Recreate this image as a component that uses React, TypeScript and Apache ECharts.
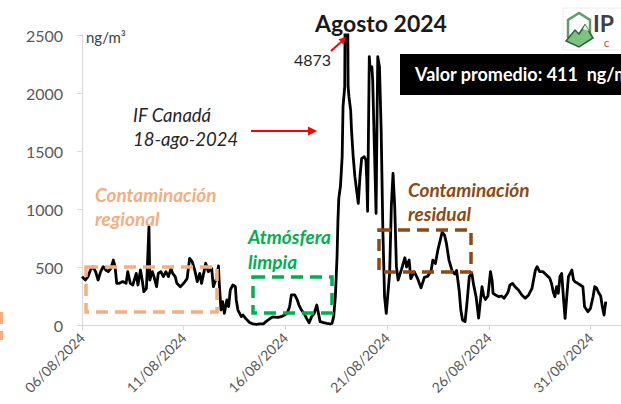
import React, { useEffect, useRef } from "react";
import * as echarts from "echarts";

// [hours since 06/08/2024 00:00, concentration ng/m³]
const regionalPhase: [number, number][] = [
  [0, 417], [4, 388], [7, 417], [10, 474], [13, 503], [16, 460], [19, 388], [22, 460], [25, 503], [28, 474],
  [31, 460], [34, 488], [37, 560], [39, 503], [41, 359], [44, 359], [48, 374], [52, 359], [54, 460], [57, 359],
  [60, 345], [64, 445], [66, 345], [69, 474], [71, 388], [73, 287], [76, 316], [77, 474], [79, 848], [80, 388],
  [83, 460], [85, 417], [88, 330], [90, 445], [93, 460], [96, 417], [99, 460], [102, 417], [105, 488], [107, 445],
  [110, 417], [112, 359], [116, 330], [120, 360], [124, 400], [127, 575], [130, 546], [133, 474], [136, 374],
  [139, 445], [141, 359], [144, 460], [146, 532], [149, 460], [153, 488], [155, 330], [157, 374], [159, 400],
  [161, 510],
];

const cleanPhase: [number, number][] = [
  [162, 359], [164, 129], [166, 201], [168, 101], [171, 216], [173, 158], [175, 302], [178, 345], [181, 330],
  [182, 216], [184, 129], [188, 72], [190, 86], [194, 49], [198, 20], [202, 9], [206, 5], [210, 9], [214, 10],
  [217, 29], [221, 50], [225, 70], [231, 65], [235, 72], [239, 86], [242, 101], [245, 158], [247, 259], [251, 259],
  [254, 216], [256, 172], [259, 129], [262, 101], [265, 57], [268, 20], [271, 72], [274, 101], [277, 172],
  [279, 101], [281, 29], [285, 20], [289, 14], [293, 9], [295, 14], [297, 72],
];

const fireEvent: [number, number][] = [
  [299, 250], [301, 600], [302, 900], [303, 1092], [305, 1200], [307, 1451], [308, 1882], [310, 2054],
  [312, 4873], [314, 2054], [315, 1968], [317, 1853], [318, 1681], [320, 1451], [322, 1279], [324, 1164],
  [326, 1049], [328, 1279], [330, 1437], [333, 1451], [335, 1422], [336, 1250], [337, 980], [339, 2313],
  [340, 2198], [342, 2227], [343, 2112], [345, 1537], [347, 962], [348, 1681], [349, 2313], [351, 2227],
  [353, 1681], [355, 819], [357, 244], [359, 101], [363, 445], [365, 1020], [367, 1307], [369, 1020], [371, 503],
];

const residualPhase: [number, number][] = [
  [373, 388], [377, 480], [381, 580], [383, 500], [386, 560], [388, 400], [392, 460], [396, 400], [400, 320],
  [404, 410], [408, 420], [412, 470], [414, 560], [417, 530], [420, 650], [423, 740], [425, 800], [428, 770],
  [430, 704], [433, 560], [437, 460], [440, 440], [442, 470], [445, 302], [447, 129], [449, 43], [452, 29],
  [454, 170], [457, 417], [460, 445], [462, 350], [465, 244], [468, 60], [470, 200], [472, 330], [474, 250],
  [476, 220], [479, 250], [482, 460], [484, 380], [485, 273], [488, 259], [492, 244], [495, 250], [498, 230],
  [502, 273], [503, 290], [505, 345], [508, 359], [511, 330], [515, 302], [519, 259], [523, 230], [527, 259],
  [531, 316], [535, 474], [537, 503], [540, 460], [544, 460], [548, 431], [552, 402], [554, 359], [556, 287],
  [558, 244], [560, 331], [562, 273], [564, 417], [566, 445], [568, 244], [570, 57], [572, 244], [574, 417],
  [576, 445], [578, 474], [580, 388], [582, 370], [585, 359], [588, 345], [591, 330], [593, 158], [597, 115],
  [600, 144], [603, 244], [605, 330], [607, 320], [610, 273], [612, 250], [614, 158], [616, 86], [618, 201],
];

const yTicks = [0, 500, 1000, 1500, 2000, 2500];
const startDateUTC = Date.UTC(2024, 7, 6);
const FONT = "Lato";

function fmtDate(hours: number): string {
  if (hours % 120 !== 0) return "";
  const d = new Date(startDateUTC + hours * 3600 * 1000);
  const dd = String(d.getUTCDate()).padStart(2, "0");
  const mm = String(d.getUTCMonth() + 1).padStart(2, "0");
  return `${dd}/${mm}/${d.getUTCFullYear()}`;
}

export default function App() {
  const ref = useRef<HTMLDivElement>(null);
  useEffect(() => {
    const chart = echarts.init(ref.current!, null, { renderer: "svg" });
    const data = [...regionalPhase, ...cleanPhase, ...fireEvent, ...residualPhase];
    const txt = (x: number, y: number, text: string, extra: any = {}) => ({
      type: "text",
      x,
      y,
      z: 20,
      style: {
        text,
        fontFamily: FONT,
        fontSize: 16,
        fill: "#262626",
        align: "left",
        verticalAlign: "middle",
        ...extra,
      },
    });
    const dashed = (x: number, y: number, w: number, h: number, color: string) => ({
      type: "rect",
      z: 15,
      shape: { x, y, width: w, height: h },
      style: { fill: "none", stroke: color, lineWidth: 3.5, lineDash: [12, 7] },
    });
    const orange = "#f4ae80";
    const green = "#00b050";
    const brown = "#8c4a14";
    chart.setOption({
      animation: false,
      backgroundColor: "#ffffff",
      grid: { left: 82, top: 35, width: 545, height: 290, containLabel: false },
      xAxis: {
        type: "value",
        min: 0,
        max: 636,
        interval: 120,
        axisLine: { show: true, lineStyle: { color: "#d9d9d9", width: 1 } },
        axisTick: { show: true, length: 5, lineStyle: { color: "#d9d9d9" } },
        splitLine: { show: false },
        axisLabel: {
          rotate: 45,
          margin: 10,
          color: "#595959",
          fontFamily: FONT,
          fontSize: 14,
          showMaxLabel: false,
          formatter: (v: number) => fmtDate(v),
        },
      },
      yAxis: {
        type: "value",
        min: yTicks[0],
        max: yTicks[yTicks.length - 1],
        interval: 500,
        axisLine: { show: true, lineStyle: { color: "#d9d9d9", width: 1 } },
        axisTick: { show: true, length: 5, lineStyle: { color: "#d9d9d9" } },
        splitLine: { show: false },
        axisLabel: {
          margin: 19,
          color: "#595959",
          fontFamily: FONT,
          fontSize: 16,
          formatter: (v: number) => String(v),
        },
      },
      series: [
        {
          type: "line",
          data,
          showSymbol: false,
          clip: true,
          lineStyle: { color: "#000000", width: 2.8, join: "round" },
          z: 5,
        },
      ],
      graphic: [
        // logo
        {
          type: "rect",
          z: 10,
          shape: { x: 563, y: 8, width: 70, height: 42 },
          style: { fill: "#ffffff", stroke: "#ececec", lineWidth: 1 },
        },
        {
          type: "polyline",
          z: 11,
          shape: { points: [[568, 38], [568, 20], [579, 13], [590, 20], [590, 38]] },
          style: { stroke: "#5e9c6b", lineWidth: 2.5, fill: "none" },
        },
        {
          type: "polygon",
          z: 12,
          shape: { points: [[566, 41], [575, 30], [579, 34], [585, 25], [593, 38], [579, 47]] },
          style: { fill: "#7cc37f", stroke: "#2f5f3a", lineWidth: 1.5 },
        },
        {
          type: "polygon",
          z: 13,
          shape: { points: [[585, 25], [589, 31], [583, 29]] },
          style: { fill: "#eef8ee" },
        },
        txt(593, 23, "IP", { fontSize: 23, fontWeight: "bold", fill: "#404040" }),
        txt(604, 44, "C", { fontSize: 8, fontWeight: "bold", fill: "#e0512b" }),
        // title
        txt(381, 23, "Agosto 2024", { fontSize: 23, fontWeight: "bold", align: "center", fill: "#1a1a1a" }),
        // average box
        {
          type: "rect",
          z: 18,
          shape: { x: 400, y: 54, width: 240, height: 41 },
          style: { fill: "#000000" },
        },
        txt(415, 74, "Valor promedio: 411  ng/m³", { fontSize: 18, fontWeight: "bold", fill: "#ffffff" }),
        // unit
        txt(86, 37, "ng/m³", { fontSize: 15, fill: "#404040" }),
        // peak label
        txt(294, 59, "4873", { fontSize: 16 }),
        {
          type: "line",
          z: 20,
          shape: { x1: 331, y1: 51, x2: 341, y2: 42 },
          style: { stroke: "#ff0000", lineWidth: 2 },
        },
        {
          type: "polygon",
          z: 20,
          shape: { points: [[346, 37], [343.3, 44.4], [338.5, 39.2]] },
          style: { fill: "#ff0000" },
        },
        // IF Canadá
        txt(133, 115, "IF Canadá", { fontSize: 18.5, fontStyle: "italic" }),
        txt(133, 139, "18-ago-2024", { fontSize: 18.5, fontStyle: "italic" }),
        {
          type: "line",
          z: 20,
          shape: { x1: 251, y1: 131, x2: 309, y2: 131 },
          style: { stroke: "#ff0000", lineWidth: 2 },
        },
        {
          type: "polygon",
          z: 20,
          shape: { points: [[317, 131], [308, 126.5], [308, 135.5]] },
          style: { fill: "#ff0000" },
        },
        // regional
        txt(95, 194, "Contaminación", { fontSize: 19, fontWeight: "bold", fontStyle: "italic", fill: orange }),
        txt(95, 218, "regional", { fontSize: 19, fontWeight: "bold", fontStyle: "italic", fill: orange }),
        dashed(86, 267, 131, 45, orange),
        {
          type: "line",
          z: 15,
          shape: { x1: 1.5, y1: 312, x2: 1.5, y2: 340 },
          style: { stroke: orange, lineWidth: 3.5, lineDash: [12, 7] },
        },
        // clean
        txt(248, 236, "Atmósfera", { fontSize: 19, fontWeight: "bold", fontStyle: "italic", fill: green }),
        txt(248, 261, "limpia", { fontSize: 19, fontWeight: "bold", fontStyle: "italic", fill: green }),
        dashed(253, 277, 79, 36, green),
        // residual
        txt(408, 189, "Contaminación", { fontSize: 19, fontWeight: "bold", fontStyle: "italic", fill: brown }),
        txt(408, 213, "residual", { fontSize: 19, fontWeight: "bold", fontStyle: "italic", fill: brown }),
        dashed(379, 230, 92, 42, brown),
      ],
    });
    return () => chart.dispose();
  }, []);
  return (
    <div
      ref={ref}
      style={{ position: "fixed", left: 0, top: 0, width: 621, height: 404, background: "#fff" }}
    />
  );
}
